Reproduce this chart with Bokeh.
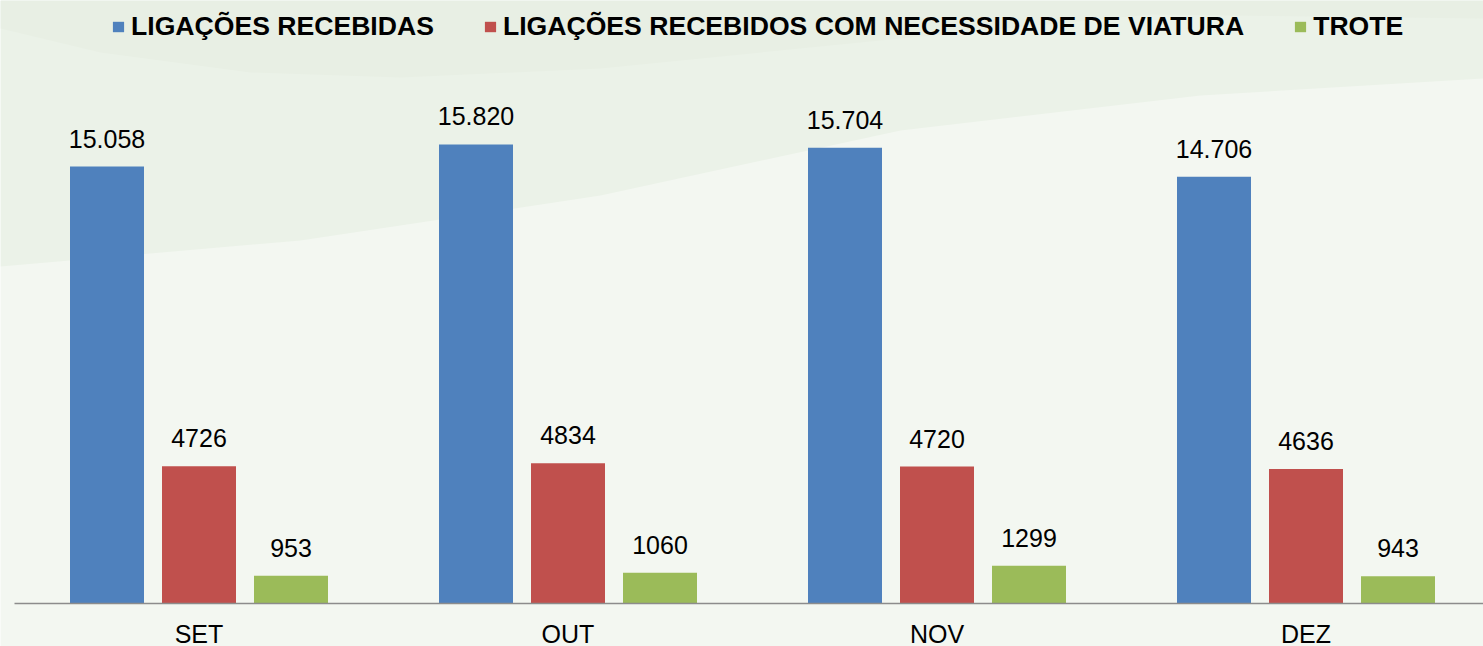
from bokeh.plotting import figure
from bokeh.models import Range1d, Legend, LegendItem, ColumnDataSource, PolyAnnotation
from bokeh.embed import file_html
from bokeh.resources import INLINE
from bokeh.core.properties import value

# ---- data ----
months = ["SET", "OUT", "NOV", "DEZ"]
series_names = ["LIGAÇÕES RECEBIDAS",
                "LIGAÇÕES RECEBIDOS COM NECESSIDADE DE VIATURA",
                "TROTE"]
recebidas = [15058, 15820, 15704, 14706]
viatura = [4726, 4834, 4720, 4636]
trote = [953, 1060, 1299, 943]
colors = ["#4F81BD", "#C0504D", "#9BBB59"]

# ---- layout constants (pixels) ----
W, H = 1483, 646
group_px = 369.0
first_center_px = 198.5
base_px = 603.0
px_per_unit = 437.0 / 15058.0
bar_step_px = 92.0
bar_w_px = 74.0

x_start = -first_center_px / group_px
x_end = (W - first_center_px) / group_px
y_start = -(H - base_px) / px_per_unit
y_end = base_px / px_per_unit


def px2x(px):
    return x_start + px / group_px


def px2y(py):
    return (base_px - py) / px_per_unit


p = figure(width=W, height=H,
           x_range=Range1d(x_start, x_end), y_range=Range1d(y_start, y_end),
           output_backend="svg", toolbar_location=None,
           x_axis_location=None, y_axis_location=None,
           min_border=0, min_border_left=0, min_border_right=0,
           min_border_top=0, min_border_bottom=0)
p.grid.visible = False
p.outline_line_color = None
p.background_fill_color = "#F3F7F1"
p.border_fill_color = "#F3F7F1"

# decorative background waves
band_pts = [(0, 0), (1483, 0), (1483, 78), (1200, 95), (900, 130), (600, 195),
            (300, 240), (0, 266)]
p.add_layout(PolyAnnotation(xs=[px2x(a) for a, b in band_pts],
                            ys=[px2y(b) for a, b in band_pts],
                            fill_color="#EBF2E8", fill_alpha=1.0, line_color=None,
                            level="underlay"))
arc_pts = [(0, 0), (1483, 0), (1483, 18), (1150, 14), (900, 38), (600, 68),
           (400, 77), (250, 72), (100, 52), (0, 28)]
p.add_layout(PolyAnnotation(xs=[px2x(a) for a, b in arc_pts],
                            ys=[px2y(b) for a, b in arc_pts],
                            fill_color="#E8EFE4", fill_alpha=1.0, line_color=None,
                            level="underlay"))

offset = bar_step_px / group_px
bw = bar_w_px / group_px
xs = list(range(len(months)))

all_series = [recebidas, viatura, trote]
renderers = []
for k, (vals, col) in enumerate(zip(all_series, colors)):
    xk = [x + (k - 1) * offset for x in xs]
    if k == 0:
        labels = [f"{v:,}".replace(",", ".") for v in vals]
    else:
        labels = [str(v) for v in vals]
    src = ColumnDataSource(dict(x=xk, top=vals, label=labels))
    r = p.vbar(x="x", top="top", bottom=0, width=bw, source=src,
               fill_color=col, line_color=None)
    renderers.append(r)
    p.text(x="x", y="top", text="label", source=src, text_align="center",
           text_baseline="alphabetic", y_offset=-28,
           text_font=value("Liberation Sans"), text_font_size="25px",
           text_color="#000000")

# axis line
p.segment(x0=[-0.5], y0=[0], x1=[len(months) - 0.5], y1=[0],
          line_color="#8C8C8C", line_width=1.5)

# category labels
p.text(x=xs, y=[0] * len(months), text=months, text_align="center",
       text_baseline="alphabetic", y_offset=30,
       text_font=value("Liberation Sans"), text_font_size="25px",
       text_color="#000000")

legend = Legend(items=[LegendItem(label=n, renderers=[r])
                       for n, r in zip(series_names, renderers)],
                orientation="horizontal", location=(111, 646 - 12 - 30),
                padding=0, margin=0, spacing=49, glyph_width=14, glyph_height=13,
                label_standoff=6, label_text_font="Liberation Sans",
                label_text_font_style="bold", label_text_font_size="26.6px",
                label_text_color="#000000",
                border_line_color=None, background_fill_alpha=0)
p.add_layout(legend)

open("out.html", "w").write(file_html(p, INLINE))
